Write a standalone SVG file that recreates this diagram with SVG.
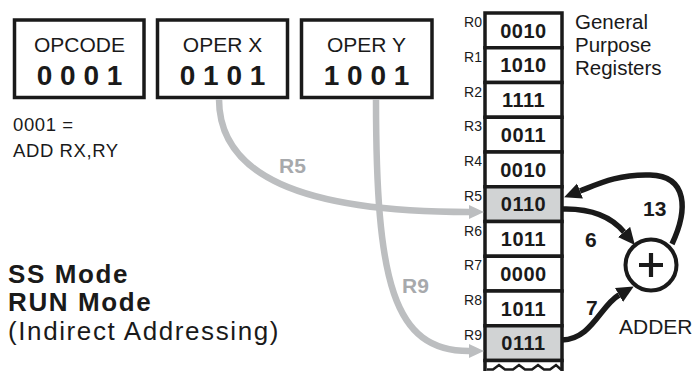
<svg xmlns="http://www.w3.org/2000/svg" width="696" height="371" viewBox="0 0 696 371">
  <defs>
    <style>
      text { font-family: "Liberation Sans", Arial, Helvetica, sans-serif; fill: #1a1a1a; }
      .box { fill: #ffffff; stroke: #1a1a1a; stroke-width: 3.5; }
      .cell { fill: #ffffff; stroke: #1a1a1a; stroke-width: 3.5; }
      .cell.hit { fill: #d1d3d4; }
      .title { font-size: 21px; text-anchor: middle; }
      .bits { font-size: 28px; font-weight: bold; text-anchor: middle; }
      .val { font-size: 20px; font-weight: bold; text-anchor: middle; letter-spacing: 0.5px; }
      .rlab { font-size: 14px; text-anchor: end; }
      .note { font-size: 18.5px; letter-spacing: 0.6px; }
      .mode { font-size: 26px; letter-spacing: 1.6px; }
      .caption { font-size: 20.5px; }
      .num { font-size: 21px; font-weight: bold; }
      .glab { font-size: 21px; font-weight: bold; fill: #a7a9ac; }
      .gray { fill: none; stroke: #bcbec0; stroke-width: 6.5; }
      .dark { fill: none; stroke: #1a1a1a; stroke-width: 5.5; }
    </style>
    <marker id="grayHead" markerUnits="userSpaceOnUse" markerWidth="16" markerHeight="16" viewBox="0 0 16 16" refX="0" refY="8" orient="auto">
      <path d="M0,1 L15,8 L0,15 z" fill="#bcbec0"/>
    </marker>
    <marker id="darkHead" markerUnits="userSpaceOnUse" markerWidth="18" markerHeight="18" viewBox="0 0 18 18" refX="0" refY="9" orient="auto">
      <path d="M0,1 L17,9 L0,17 z" fill="#1a1a1a"/>
    </marker>
  </defs>

  <rect width="696" height="371" fill="#ffffff"/>

  <!-- instruction word fields -->
  <g id="opcode">
    <rect class="box" x="14.5" y="20" width="129.5" height="77.5"/>
    <text class="title" x="79.5" y="52">OPCODE</text>
    <text class="bits" x="79.5" y="85">0 0 0 1</text>
  </g>
  <g id="operX">
    <rect class="box" x="157.5" y="20" width="130" height="77.5"/>
    <text class="title" x="222.5" y="52">OPER X</text>
    <text class="bits" x="222.5" y="85">0 1 0 1</text>
  </g>
  <g id="operY">
    <rect class="box" x="301.5" y="20" width="130.5" height="77.5"/>
    <text class="title" x="366.5" y="52">OPER Y</text>
    <text class="bits" x="366.5" y="85">1 0 0 1</text>
  </g>

  <g id="opcode-note">
    <text class="note" x="13" y="131">0001 =</text>
    <text class="note" x="13" y="157">ADD RX,RY</text>
  </g>

  <g id="mode-note">
    <text class="mode" x="8" y="283" font-weight="bold">SS Mode</text>
    <text class="mode" x="8" y="311" font-weight="bold">RUN Mode</text>
    <text class="mode" x="8" y="340" letter-spacing="1.3">(Indirect Addressing)</text>
  </g>

  <!-- register file -->
  <g id="registers">
    <rect class="cell" x="485" y="13" width="77" height="34.75"/>
    <rect class="cell" x="485" y="47.75" width="77" height="34.75"/>
    <rect class="cell" x="485" y="82.5" width="77" height="34.75"/>
    <rect class="cell" x="485" y="117.25" width="77" height="34.75"/>
    <rect class="cell" x="485" y="152" width="77" height="34.75"/>
    <rect class="cell hit" x="485" y="186.75" width="77" height="34.75"/>
    <rect class="cell" x="485" y="221.5" width="77" height="34.75"/>
    <rect class="cell" x="485" y="256.25" width="77" height="34.75"/>
    <rect class="cell" x="485" y="291" width="77" height="34.75"/>
    <rect class="cell hit" x="485" y="325.75" width="77" height="34.75"/>
    <!-- continuation below R9 -->
    <rect x="485" y="360.5" width="77" height="20" fill="#ffffff" stroke="#1a1a1a" stroke-width="3.5"/>
    <path d="M487,369.5 L493,369.5 L499,365 L505,369.5 L513,369.5 L519,365 L525,369.5 L532,369.5 L538,365 L544,369.5 L550,369.5 L556,365 L561,369.5" fill="none" stroke="#1a1a1a" stroke-width="2.5"/>

    <text class="val" x="523.5" y="37.5">0010</text>
    <text class="val" x="523.5" y="72.2">1010</text>
    <text class="val" x="523.5" y="107">1111</text>
    <text class="val" x="523.5" y="141.7">0011</text>
    <text class="val" x="523.5" y="176.5">0010</text>
    <text class="val" x="523.5" y="211.2">0110</text>
    <text class="val" x="523.5" y="246">1011</text>
    <text class="val" x="523.5" y="280.7">0000</text>
    <text class="val" x="523.5" y="315.5">1011</text>
    <text class="val" x="523.5" y="350.2">0111</text>

    <text class="rlab" x="482" y="27">R0</text>
    <text class="rlab" x="482" y="61.7">R1</text>
    <text class="rlab" x="482" y="96.5">R2</text>
    <text class="rlab" x="482" y="131.2">R3</text>
    <text class="rlab" x="482" y="166">R4</text>
    <text class="rlab" x="482" y="200.7">R5</text>
    <text class="rlab" x="482" y="235.5">R6</text>
    <text class="rlab" x="482" y="270.2">R7</text>
    <text class="rlab" x="482" y="305">R8</text>
    <text class="rlab" x="482" y="339.7">R9</text>
  </g>

  <g id="registers-caption">
    <text class="caption" x="575" y="29">General</text>
    <text class="caption" x="575" y="52">Purpose</text>
    <text class="caption" x="575" y="75">Registers</text>
  </g>

  <!-- adder -->
  <g id="adder">
    <circle cx="651" cy="265" r="25.5" fill="#ffffff" stroke="#1a1a1a" stroke-width="4"/>
    <path d="M639,265 H663 M651,253 V277" stroke="#1a1a1a" stroke-width="4.2" fill="none"/>
    <text x="619" y="334" font-size="21">ADDER</text>
  </g>

  <!-- connectors -->
  <g id="connectors">
    <path class="gray" d="M219,99 C219,175 300,212 469,212" marker-end="url(#grayHead)"/>
    <path class="gray" d="M376,99 C376,282 393,351 469,351" marker-end="url(#grayHead)"/>
    <text class="glab" x="279" y="173">R5</text>
    <text class="glab" x="402" y="293">R9</text>

    <path class="dark" d="M562,209 C596,208 614,220 624,232" marker-end="url(#darkHead)"/>
    <path class="dark" d="M562,340 C592,339 600,306 619,295" marker-end="url(#darkHead)"/>
    <path class="dark" d="M672,244 C688,210 688,176 650,175 C618,174 598,184 580,191" marker-end="url(#darkHead)"/>
    <text class="num" x="643" y="216">13</text>
    <text class="num" x="585" y="247">6</text>
    <text class="num" x="586" y="315">7</text>
  </g>
</svg>
